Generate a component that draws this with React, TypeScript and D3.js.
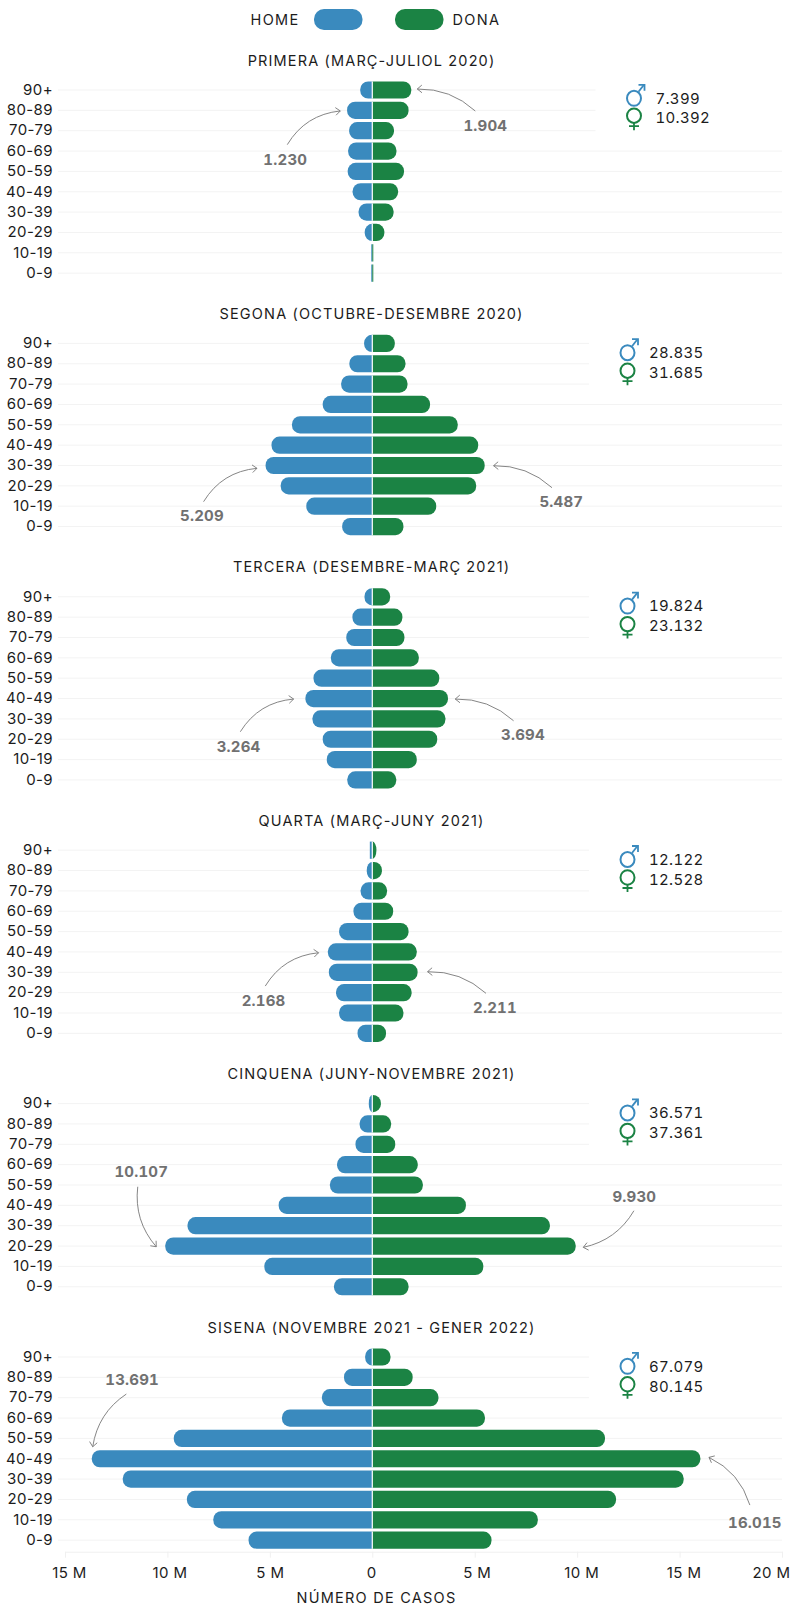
import * as d3 from "d3";
import React, { useEffect, useRef } from "react";

const ages = ["90+", "80-89", "70-79", "60-69", "50-59", "40-49", "30-39", "20-29", "10-19", "0-9"];

const titles = [
  "PRIMERA (MARÇ-JULIOL 2020)",
  "SEGONA (OCTUBRE-DESEMBRE 2020)",
  "TERCERA (DESEMBRE-MARÇ 2021)",
  "QUARTA (MARÇ-JUNY 2021)",
  "CINQUENA (JUNY-NOVEMBRE 2021)",
  "SISENA (NOVEMBRE 2021 - GENER 2022)",
];

// Casos en milers, de 90+ a 0-9.
const home1 = [0.59, 1.23, 1.13, 1.18, 1.2, 0.96, 0.67, 0.37, 0.02, 0.01];
const dona1 = [1.904, 1.77, 1.06, 1.18, 1.55, 1.26, 1.04, 0.59, 0.04, 0.03];
const home2 = [0.4, 1.12, 1.52, 2.42, 3.92, 4.92, 5.209, 4.47, 3.22, 1.47];
const dona2 = [1.1, 1.62, 1.72, 2.82, 4.17, 5.17, 5.487, 5.07, 3.12, 1.52];
const home3 = [0.38, 0.97, 1.27, 2.02, 2.87, 3.264, 2.92, 2.42, 2.22, 1.22];
const dona3 = [0.87, 1.47, 1.57, 2.27, 3.27, 3.694, 3.57, 3.17, 2.17, 1.17];
const home4 = [0.12, 0.27, 0.57, 0.92, 1.62, 2.168, 2.12, 1.77, 1.62, 0.72];
const dona4 = [0.2, 0.47, 0.72, 1.02, 1.77, 2.17, 2.211, 1.92, 1.52, 0.67];
const home5 = [0.17, 0.62, 0.82, 1.72, 2.07, 4.57, 9.02, 10.107, 5.27, 1.87];
const dona5 = [0.42, 0.92, 1.12, 2.22, 2.47, 4.57, 8.67, 9.93, 5.42, 1.77];
const home6 = [0.35, 1.38, 2.46, 4.41, 9.69, 13.691, 12.18, 9.05, 7.76, 6.04];
const dona6 = [0.89, 1.97, 3.23, 5.5, 11.36, 16.015, 15.2, 11.9, 8.08, 5.82];

const homeSeries = [home1, home2, home3, home4, home5, home6];
const donaSeries = [dona1, dona2, dona3, dona4, dona5, dona6];

const homeTotals = ["7.399", "28.835", "19.824", "12.122", "36.571", "67.079"];
const donaTotals = ["10.392", "31.685", "23.132", "12.528", "37.361", "80.145"];

const homePeakLabels = ["1.230", "5.209", "3.264", "2.168", "10.107", "13.691"];
const donaPeakLabels = ["1.904", "5.487", "3.694", "2.211", "9.930", "16.015"];
const homePeakAge = ["80-89", "30-39", "40-49", "40-49", "20-29", "40-49"];
const donaPeakAge = ["90+", "30-39", "40-49", "30-39", "20-29", "40-49"];

const xTicks = [-15, -10, -5, 0, 5, 10, 15, 20];

const BLUE = "#3a8abe";
const GREEN = "#1b8344";
const INK = "#1c1c1c";
const NOTE = "#717171";
const FONT = "Inter, sans-serif";

// Posició de les anotacions, relativa a la punta de la fletxa.
// s: inici de la corba, t: centre del text, bend: curvatura, tipDx/tipDy: separació respecte de la barra.
const homeNotes = [
  { sx: -53, sy: 33.7, tx: -55, ty: 49, bend: -0.25, tipDx: -6.8, tipDy: 0.6 },
  { sx: -53.4, sy: 33.4, tx: -55, ty: 47.4, bend: -0.25, tipDx: -8.6, tipDy: 2.8 },
  { sx: -53.3, sy: 32.7, tx: -55, ty: 47.7, bend: -0.25, tipDx: -11.8, tipDy: 0.5 },
  { sx: -53.3, sy: 33.3, tx: -55, ty: 48, bend: -0.25, tipDx: -9.3, tipDy: 0.8 },
  { sx: -18.5, sy: -60, tx: -15, ty: -75, bend: 0.22, tipDx: -9, tipDy: 0.7 },
  { sx: 33.6, sy: -52.7, tx: 39.4, ty: -66.7, bend: 0.22, tipDx: 0.9, tipDy: -12 },
];
const donaNotes = [
  { sx: 58, sy: 22, tx: 68, ty: 36.7, bend: 0.2, tipDx: 6, tipDy: -1 },
  { sx: 58.4, sy: 22, tx: 67.7, ty: 36, bend: 0.2, tipDx: 8.9, tipDy: 0.2 },
  { sx: 58.3, sy: 21.7, tx: 67.7, ty: 36, bend: 0.2, tipDx: 7.3, tipDy: 0.5 },
  { sx: 58.4, sy: 21.6, tx: 67.4, ty: 36, bend: 0.2, tipDx: 10, tipDy: -0.6 },
  { sx: 50.6, sy: -36.6, tx: 51, ty: -50.6, bend: -0.22, tipDx: 7.6, tipDy: 1.3 },
  { sx: 40.9, sy: 47.7, tx: 45.9, ty: 65.7, bend: 0.22, tipDx: 8.6, tipDy: -1.4 },
];
const totalsX = [655.5, 649, 649, 649, 649, 649];

// Barra amb només l'extrem exterior arrodonit.
function barPath(x0: number, x1: number, y: number, h: number, r: number) {
  const dir = x1 < x0 ? -1 : 1;
  const w = Math.abs(x1 - x0);
  if (w < 2.5) return `M${x0},${y}H${x1}V${y + h}H${x0}Z`;
  const rx = Math.min(r, w);
  const sweep = dir > 0 ? 1 : 0;
  return (
    `M${x0},${y}H${x1 - dir * rx}` +
    `A${rx},${r} 0 0 ${sweep} ${x1},${y + r}` +
    `V${y + h - r}` +
    `A${rx},${r} 0 0 ${sweep} ${x1 - dir * rx},${y + h}` +
    `H${x0}Z`
  );
}

export default function App() {
  const ref = useRef<SVGSVGElement>(null);

  useEffect(() => {
    const svg = d3.select(ref.current);
    svg.selectAll("*").remove();
    svg.attr("font-family", FONT);

    const width = 792;
    const firstRow = 90;
    const panelStep = 253.4;
    const rowStep = 20.35;
    const barHeight = 17.2;
    const barRadius = 8;

    const x = d3.scaleLinear().domain([-15, 20]).range([65, 782]);
    const y = d3.scalePoint<string>().domain(ages).range([0, rowStep * 9]);

    // Llegenda
    const legend = svg.append("g");
    const legendText = (tx: number, anchor: string, label: string) =>
      legend
        .append("text")
        .attr("x", tx)
        .attr("y", 19.5)
        .attr("dy", "0.35em")
        .attr("text-anchor", anchor)
        .attr("font-size", 14.5)
        .attr("letter-spacing", 1.3)
        .attr("fill", INK)
        .text(label);
    legendText(299.5, "end", "HOME");
    legendText(452.5, "start", "DONA");
    [
      [314, BLUE],
      [395, GREEN],
    ].forEach(([lx, color]) => {
      legend
        .append("rect")
        .attr("x", lx)
        .attr("y", 9)
        .attr("width", 48.5)
        .attr("height", 21)
        .attr("rx", 10)
        .attr("fill", color as string);
    });

    titles.forEach((title, p) => {
      const top = firstRow + p * panelStep;
      const g = svg.append("g").attr("transform", `translate(0,${top})`);
      const home = homeSeries[p];
      const dona = donaSeries[p];

      g.append("text")
        .attr("x", 371.5)
        .attr("y", -29.5)
        .attr("dy", "0.35em")
        .attr("text-anchor", "middle")
        .attr("font-size", 14.5)
        .attr("letter-spacing", 1.15)
        .attr("fill", INK)
        .text(title);

      // Línies de graella
      g.append("g")
        .selectAll("line")
        .data(ages)
        .join("line")
        .attr("x1", 58)
        .attr("x2", 782)
        .attr("y1", (d) => y(d))
        .attr("y2", (d) => y(d))
        .attr("stroke", "#f3f3f3")
        .attr("stroke-width", 1);

      // Etiquetes d'edat
      g.append("g")
        .selectAll("text")
        .data(ages)
        .join("text")
        .attr("x", 53)
        .attr("y", (d) => y(d)! - 0.5)
        .attr("dy", "0.35em")
        .attr("text-anchor", "end")
        .attr("font-size", 15)
        .attr("letter-spacing", 0.4)
        .attr("fill", INK)
        .text((d) => d);

      // Barres
      g.append("g")
        .selectAll("path")
        .data(home)
        .join("path")
        .attr("d", (d, i) => {
          const x1 = Math.min(x(-d), x(0) - 1);
          return barPath(x(0), x1, y(ages[i])! - barHeight / 2, barHeight, barRadius);
        })
        .attr("fill", BLUE);
      g.append("g")
        .selectAll("path")
        .data(dona)
        .join("path")
        .attr("d", (d, i) => {
          const x1 = Math.max(x(d), x(0) + 1);
          return barPath(x(0), x1, y(ages[i])! - barHeight / 2, barHeight, barRadius);
        })
        .attr("fill", GREEN);

      // Separador blanc al zero, només si les barres tenen amplada
      g.append("g")
        .selectAll("line")
        .data(ages.filter((_, i) => home[i] > 0.1))
        .join("line")
        .attr("x1", x(0))
        .attr("x2", x(0))
        .attr("y1", (d) => y(d)! - barHeight / 2)
        .attr("y2", (d) => y(d)! + barHeight / 2)
        .attr("stroke", "#fff")
        .attr("stroke-width", 1.2);

      // Totals per sexe
      const tx = totalsX[p];
      const ix = tx - 21.5;
      const maleY = p === 0 ? 8.3 : 9.3;
      const femaleY = p === 0 ? 27.7 : 29.3;

      g.append("rect")
        .attr("x", ix - 38.5)
        .attr("y", -6)
        .attr("width", width - ix + 38.5)
        .attr("height", rowStep * 2 + 14)
        .attr("fill", "#fff");

      const total = (label: string, ty: number) =>
        g
          .append("text")
          .attr("x", tx)
          .attr("y", ty)
          .attr("dy", "0.35em")
          .attr("font-size", 15)
          .attr("letter-spacing", 0.3)
          .style("font-variant-numeric", "tabular-nums")
          .attr("fill", INK)
          .text(label);
      total(homeTotals[p], maleY);
      total(donaTotals[p], femaleY);

      const male = g.append("g").attr("transform", `translate(${ix},${maleY})`).attr("fill", "none").attr("stroke", BLUE);
      male.append("ellipse").attr("rx", 7).attr("ry", 7.5).attr("stroke-width", 2);
      male.append("path").attr("d", "M4.5,-6.5L10,-13.5").attr("stroke-width", 1.8);
      male.append("path").attr("d", "M4.5,-13.5H10.5V-7.5").attr("stroke-width", 1.8);

      const female = g.append("g").attr("transform", `translate(${ix},${femaleY - 2})`).attr("fill", "none").attr("stroke", GREEN);
      female.append("ellipse").attr("rx", 7).attr("ry", 7.2).attr("stroke-width", 2);
      female.append("path").attr("d", "M0,7V14.5M-5,10.5H5").attr("stroke-width", 1.8);

      // Anotacions del valor màxim
      const note = (value: number, age: string, label: string, n: (typeof homeNotes)[0], dir: number) => {
        const tipX = x(dir * value) + n.tipDx;
        const tipY = y(age)! + n.tipDy;
        const sx = tipX + n.sx;
        const sy = tipY + n.sy;
        // Punt de control perpendicular a la corda.
        const cx = (sx + tipX) / 2 - (tipY - sy) * n.bend;
        const cy = (sy + tipY) / 2 + (tipX - sx) * n.bend;
        const path = d3.path();
        path.moveTo(sx, sy);
        path.quadraticCurveTo(cx, cy, tipX, tipY);
        const a = Math.atan2(tipY - cy, tipX - cx);
        const arrow = d3.path();
        const headLen = 6;
        arrow.moveTo(tipX + headLen * Math.cos(a + 2.45), tipY + headLen * Math.sin(a + 2.45));
        arrow.lineTo(tipX, tipY);
        arrow.lineTo(tipX + headLen * Math.cos(a - 2.45), tipY + headLen * Math.sin(a - 2.45));
        g.append("path").attr("d", path.toString()).attr("fill", "none").attr("stroke", "#777").attr("stroke-width", 0.9);
        g.append("path").attr("d", arrow.toString()).attr("fill", "none").attr("stroke", "#777").attr("stroke-width", 0.9);
        g.append("text")
          .attr("x", tipX + n.tx)
          .attr("y", tipY + n.ty)
          .attr("dy", "0.35em")
          .attr("text-anchor", "middle")
          .attr("font-size", 15)
          .attr("font-weight", 700)
          .attr("letter-spacing", 0.2)
          .style("font-variant-numeric", "tabular-nums")
          .attr("fill", NOTE)
          .text(label);
      };
      note(d3.max(home)!, homePeakAge[p], homePeakLabels[p], homeNotes[p], -1);
      note(d3.max(dona)!, donaPeakAge[p], donaPeakLabels[p], donaNotes[p], 1);
    });

    // Eix inferior
    const axisY = 1551.7;
    const labelShift = [4, 2, 0, -1, 2, 4, 4, -11];
    const axis = d3
      .axisBottom(x)
      .tickValues(xTicks)
      .tickSize(6)
      .tickSizeOuter(0)
      .tickFormat((d) => (d === 0 ? "0" : `${Math.abs(+d)} M`));
    svg
      .append("g")
      .attr("transform", `translate(0,${axisY})`)
      .call(axis)
      .call((a) => a.select(".domain").attr("stroke", "#f0f0f0"))
      .call((a) => a.selectAll(".tick line").attr("stroke", "#f0f0f0"))
      .call((a) =>
        a
          .selectAll(".tick text")
          .attr("font-family", FONT)
          .attr("font-size", 15)
          .attr("letter-spacing", 0.4)
          .attr("fill", INK)
          .attr("y", 16)
          .attr("dy", "0.71em")
          .attr("dx", (_, i) => labelShift[i])
      );

    svg
      .append("text")
      .attr("x", 376.5)
      .attr("y", 1598)
      .attr("dy", "0.35em")
      .attr("text-anchor", "middle")
      .attr("font-size", 14.5)
      .attr("letter-spacing", 1.25)
      .attr("fill", INK)
      .text("NÚMERO DE CASOS");
  }, []);

  return <svg ref={ref} width={792} height={1605} style={{ position: "absolute", left: 0, top: 0, background: "#fff" }} />;
}
